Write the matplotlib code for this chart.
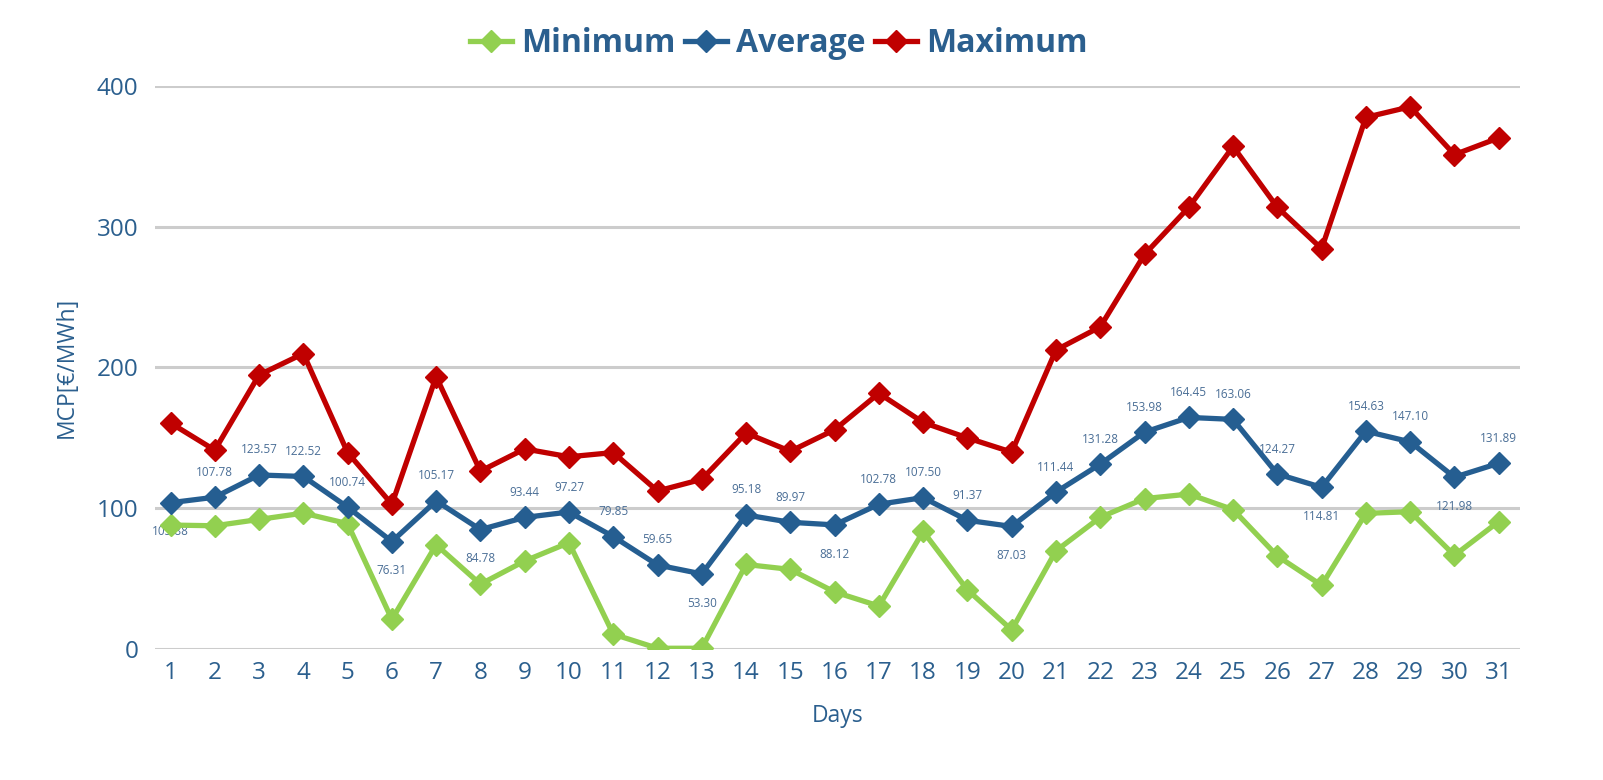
import numpy as np
import matplotlib.pyplot as plt
from matplotlib.lines import Line2D

days = list(range(1, 32))

minimum = [88, 87.5, 92, 96.5, 89, 21, 74, 46, 62.5, 75.5, 10.5, 0.5, 0.5, 60, 56.5, 40.5,
           30.5, 83.5, 42, 13.5, 69.7, 93.5, 106.8, 110, 99, 66, 45.2, 96.3, 97.5, 66.5, 90.5]
average = [103.88, 107.78, 123.57, 122.52, 100.74, 76.31, 105.17, 84.78, 93.44, 97.27, 79.85,
           59.65, 53.30, 95.18, 89.97, 88.12, 102.78, 107.50, 91.37, 87.03, 111.44, 131.28,
           153.98, 164.45, 163.06, 124.27, 114.81, 154.63, 147.10, 121.98, 131.89]
maximum = [160.5, 141.2, 194.6, 209.8, 139.5, 102.8, 193.4, 126.3, 142.1, 136.5, 139.5, 112.2,
           120.5, 153.4, 140.4, 155.7, 181.6, 160.9, 149.9, 139.8, 212.3, 228.8, 280.2, 313.7,
           356.9, 313.7, 284.3, 377.6, 385.1, 351.1, 363.0]

names = ['Minimum', 'Average', 'Maximum']
colors = ['#92d050', '#255e91', '#c00000']
text_blue = '#2b5f8e'

plt.rcParams['font.family'] = ['Open Sans', 'DejaVu Sans']

fig = plt.figure(figsize=(16.03, 7.80), dpi=100)
ax = fig.add_axes([0.0967, 0.168, 0.8515, 0.722])

for vals, c in zip([minimum, average, maximum], colors):
    ax.plot(days, vals, color=c, lw=3.8, marker='D', markersize=11, zorder=3)

# data labels on the average series: below at local minima, above otherwise
n = len(average)
for i, v in enumerate(average):
    left = average[i - 1] if i > 0 else np.inf
    right = average[i + 1] if i < n - 1 else np.inf
    below = v < left and v < right
    ax.annotate('{:.2f}'.format(v), (days[i], v), xytext=(0, -21 if below else 18),
                textcoords='offset points', ha='center', va='center',
                fontsize=8.5, color='#4a6e96', zorder=2)

ax.set_ylim(0, 400)
ax.set_xlim(0.65, 31.48)
ax.set_yticks([0, 100, 200, 300, 400])
ax.set_xticks(days)
ax.grid(axis='y', color='#cccccc', lw=2.2)
ax.set_axisbelow(True)
for s in ax.spines.values():
    s.set_visible(False)
ax.tick_params(length=0, labelsize=17.5, labelcolor=text_blue)
ax.tick_params(axis='x', pad=9)
ax.tick_params(axis='y', pad=12)
ax.set_ylabel('MCP[€/MWh]', fontsize=16.5, color=text_blue, labelpad=13)
ax.set_xlabel('Days', fontsize=16.5, color=text_blue, labelpad=13)

handles = [Line2D([], [], color=c, lw=3.8, marker='D', markersize=11) for c in colors]
leg = fig.legend(handles, names, loc='center', bbox_to_anchor=(0.486, 0.944), ncol=3,
                 frameon=False, handlelength=1.3, handletextpad=0.3, columnspacing=0.3,
                 prop={'size': 23, 'weight': 'bold'})
for t in leg.get_texts():
    t.set_color(text_blue)

fig.savefig('out.png', dpi=100)
